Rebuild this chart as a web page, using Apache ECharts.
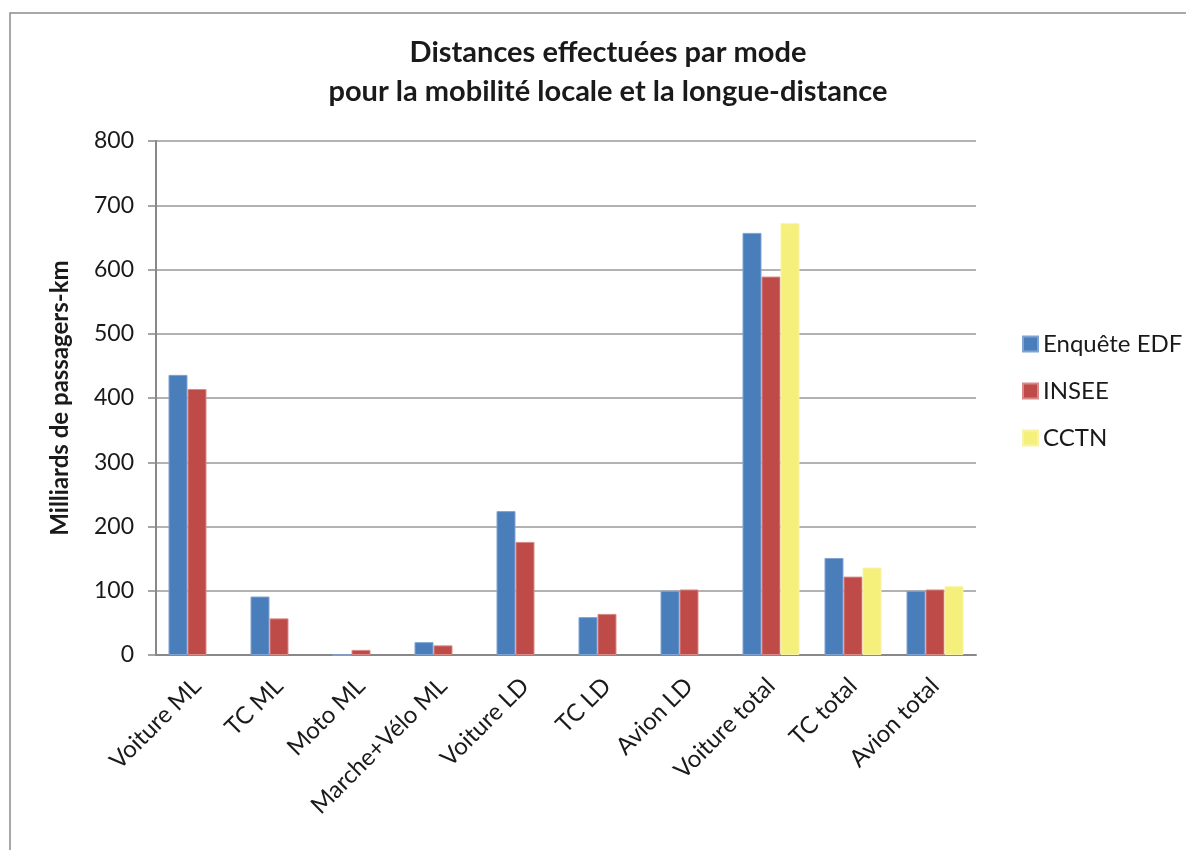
<!DOCTYPE html>
<html>
<head>
<meta charset="utf-8">
<script src="https://cdn.jsdelivr.net/npm/echarts@6/dist/echarts.min.js"></script>
<style>
  html, body { margin: 0; padding: 0; background: #fff; }
  #chart { width: 1186px; height: 850px; }
</style>
</head>
<body>
<div id="chart"></div>
<script>
// catégories et valeurs
var categories = ['Voiture ML', 'TC ML', 'Moto ML', 'Marche+Vélo ML', 'Voiture LD',
                  'TC LD', 'Avion LD', 'Voiture total', 'TC total', 'Avion total'];
var enqueteEDF = [436, 91, 0, 20, 224, 59, 100, 657, 151, 100];
var insee      = [414, 57, 8, 15, 176, 64, 102, 589, 122, 102];
var cctn       = [null, null, null, null, null, null, null, 672, 136, 107];
var yTicks = [0, 100, 200, 300, 400, 500, 600, 700, 800];

var font = 'Lato';

var myChart = echarts.init(document.getElementById('chart'));

function barSerie(name, data, color, border) {
    return {
        name: name,
        type: 'bar',
        data: data,
        barWidth: 19,
        barGap: '0%',
        itemStyle: { color: color, borderColor: border, borderWidth: 1 }
    };
}

var option = {
    backgroundColor: '#fff',
    animation: false,
    title: {
        text: 'Distances effectuées par mode\npour la mobilité locale et la longue-distance',
        left: 603,
        textAlign: 'center',
        top: 28,
        textStyle: {
            fontFamily: font,
            fontSize: 29,
            fontWeight: 'bold',
            color: '#1a1a1a',
            lineHeight: 39
        }
    },
    graphic: [{
        type: 'rect',
        shape: { x: 10, y: 13, width: 1190, height: 860 },
        style: { fill: 'none', stroke: '#8c8c8c', lineWidth: 1.5 },
        silent: true
    }],
    legend: {
        orient: 'vertical',
        left: 1017,
        top: 327,
        itemWidth: 15,
        itemHeight: 15,
        itemGap: 23,
        icon: 'rect',
        textStyle: { fontFamily: font, fontSize: 24, color: '#1a1a1a' },
        data: ['Enquête EDF', 'INSEE', 'CCTN']
    },
    grid: { left: 156, right: 210, top: 141, bottom: 195 },
    xAxis: {
        type: 'category',
        data: categories,
        axisLine: { lineStyle: { color: '#888', width: 2 } },
        axisTick: { show: false },
        axisLabel: {
            rotate: 45,
            interval: 0,
            margin: 27,
            fontFamily: font,
            fontSize: 24,
            color: '#1a1a1a'
        }
    },
    yAxis: {
        type: 'value',
        min: yTicks[0],
        max: yTicks[yTicks.length - 1],
        interval: 100,
        name: 'Milliards de passagers-km',
        nameLocation: 'middle',
        nameGap: 84,
        nameTextStyle: { fontFamily: font, fontSize: 24, fontWeight: 'bold', color: '#1a1a1a' },
        axisLine: { show: true, lineStyle: { color: '#888', width: 2 } },
        axisTick: { show: true, length: 8, lineStyle: { color: '#888', width: 1.5 } },
        axisLabel: { margin: 22, fontFamily: font, fontSize: 23, color: '#1a1a1a' },
        splitLine: { lineStyle: { color: '#999', width: 1.5 } }
    },
    series: [
        barSerie('Enquête EDF', enqueteEDF, '#4a7ebb', '#7fa3d3'),
        barSerie('INSEE', insee, '#be4b48', '#d88a88'),
        barSerie('CCTN', cctn, '#f5ef7c', '#f8f3a6')
    ]
};

myChart.setOption(option);
window.addEventListener('resize', function () {
    myChart.resize();
});
</script>
</body>
</html>
